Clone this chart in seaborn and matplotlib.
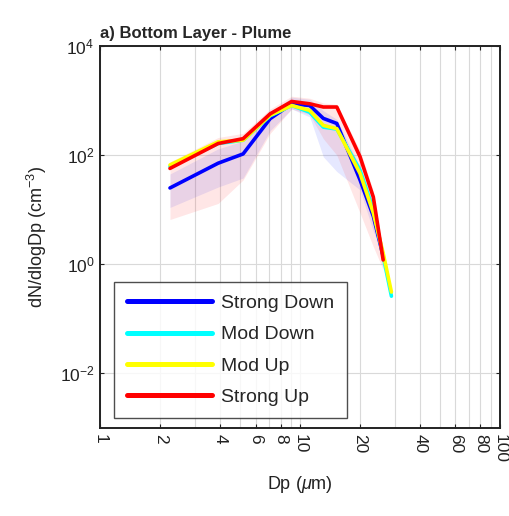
import numpy as np
import pandas as pd
import matplotlib
matplotlib.use("Agg")
import matplotlib.pyplot as plt
import seaborn as sns
from matplotlib.ticker import FixedLocator, NullLocator
from matplotlib.lines import Line2D

# ---- data ----
dp = [2.24, 3.9, 5.2, 7.1, 9.1, 11.2, 13.1, 15.3, 20, 23.3, 26.1, 28.7]
series_names = ["Strong Down", "Mod Down", "Mod Up", "Strong Up"]
strong_down = [25, 71, 105, 465, 870, 810, 470, 380, 35, 7.6, 1.4]
mod_down = [62, 163, 187, 525, 810, 610, 325, 300, 53, 10, 1.4, 0.26]
mod_up = [66, 175, 187, 537, 810, 660, 350, 305, 46, 8.7, 1.6, 0.31]
strong_up = [57, 163, 200, 570, 960, 870, 760, 760, 93, 17, 1.2]

# variability bands (Strong Down, Strong Up)
sd_low = [11, 26, 38, 280, 700, 500, 93, 50, 23, 4, 1.6]
sd_high = [45, 130, 180, 560, 1150, 1050, 650, 450, 60, 12, 2.0]
su_low = [6.6, 13, 35, 250, 700, 550, 200, 100, 8.7, 2.1, 0.8]
su_high = [75, 210, 250, 700, 1200, 1100, 900, 850, 120, 22, 1.6]

xticks = [1, 2, 4, 6, 8, 10, 20, 40, 60, 80, 100]
xgrid = [1, 2, 3, 4, 5, 6, 7, 8, 9, 10, 20, 30, 40, 50, 60, 70, 80, 90, 100]
yticks = [1e-2, 1e0, 1e2, 1e4]
ytick_labels = ["$10^{-2}$", "$10^{0}$", "$10^{2}$", "$10^{4}$"]

colors = ["#0000ff", "#00ffff", "#ffff00", "#ff0000"]

rows = []
for name, vals in zip(series_names, [strong_down, mod_down, mod_up, strong_up]):
    for i, v in enumerate(vals):
        rows.append({"Dp": dp[i], "dN": v, "series": name, "order": i})
df = pd.DataFrame(rows)

sns.set_style("white")
plt.rcParams['font.family'] = ['Liberation Sans', 'DejaVu Sans']
plt.rcParams['mathtext.fontset'] = 'custom'
plt.rcParams['mathtext.rm'] = 'Liberation Sans'
plt.rcParams['mathtext.it'] = 'Liberation Sans:italic'

fig = plt.figure(figsize=(5.10, 5.16), dpi=100)
ax = fig.add_axes([0.196, 0.1705, 0.784, 0.7405])

ax.set_xscale("log")
ax.set_yscale("log")

# bands
n_sd = len(sd_low)
ax.fill_between(dp[:n_sd], sd_low, sd_high, color="#3344ff", alpha=0.12, lw=0)
n_su = len(su_low)
ax.fill_between(dp[:n_su], su_low, su_high, color="#ff3333", alpha=0.12, lw=0)

sns.lineplot(data=df, x="Dp", y="dN", hue="series", hue_order=series_names,
             palette=colors, estimator=None, sort=False, units="series",
             linewidth=2.6, ax=ax, legend=False)

ax.set_xlim(1, 100)
ax.set_ylim(1e-3, 1e4)

# grid
for gx in xgrid:
    ax.axvline(gx, color="#d9d9d9", lw=0.8, zorder=0)
for gy in yticks:
    ax.axhline(gy, color="#d9d9d9", lw=0.8, zorder=0)

ax.xaxis.set_major_locator(FixedLocator(xticks))
ax.xaxis.set_minor_locator(NullLocator())
ax.set_xticklabels([str(t) for t in xticks], rotation=-90, fontsize=12.5)
ax.yaxis.set_major_locator(FixedLocator(yticks))
ax.yaxis.set_minor_locator(NullLocator())
ax.set_yticklabels(ytick_labels, fontsize=12.5)
ax.tick_params(direction="in", length=3, width=0.8, top=True, right=True,
               bottom=True, left=True, colors="#222222", labelcolor="#222222", pad=4)

for s in ax.spines.values():
    s.set_color("#222222")
    s.set_linewidth(1.4)

ax.set_xlabel(r"Dp ($\mu$m)", fontsize=13, color="#222222", labelpad=8)
ax.set_ylabel(r"dN/dlogDp (cm$^{-3}$)", fontsize=13, color="#222222", labelpad=8)
ax.set_title("a) Bottom Layer - Plume", loc="left", fontsize=12,
             fontweight="bold", pad=6)

handles = [Line2D([0], [0], color=c, lw=3.6) for c in colors]
leg = ax.legend(handles, series_names, loc="lower left",
                bbox_to_anchor=(0.035, 0.025), fontsize=14, frameon=True,
                fancybox=False, edgecolor="#222222", handlelength=4.4,
                handletextpad=0.45, labelspacing=0.7, borderpad=0.65,
                borderaxespad=0.0)
leg.get_frame().set_linewidth(1.0)

fig.savefig("out.png", dpi=100)
